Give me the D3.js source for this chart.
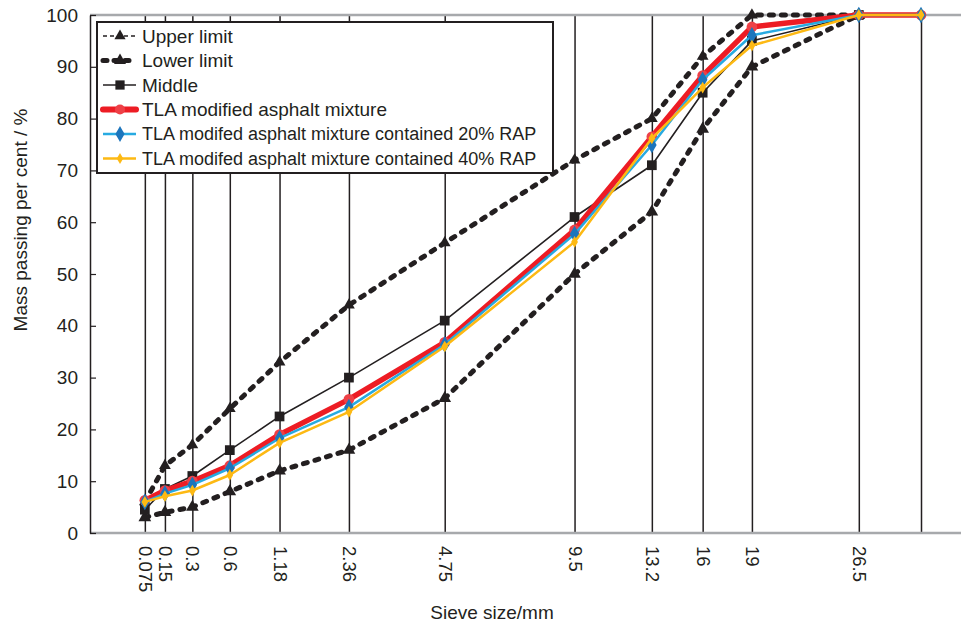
<!DOCTYPE html>
<html>
<head>
<meta charset="utf-8">
<script src="https://cdn.jsdelivr.net/npm/d3@7"></script>
<style>
  body { margin: 0; background: #fff; }
  svg { font-family: "Liberation Sans", Arial, sans-serif; }
</style>
</head>
<body>
<script>
// sieve sizes (mm) and tick labels
var sieves = [0.075, 0.15, 0.3, 0.6, 1.18, 2.36, 4.75, 9.5, 13.2, 16, 19, 26.5, 31.5];
var sieveLabels = ["0.075", "0.15", "0.3", "0.6", "1.18", "2.36", "4.75", "9.5", "13.2", "16", "19", "26.5", ""];
var yTicks = [0, 10, 20, 30, 40, 50, 60, 70, 80, 90, 100];

// passing percentages (null = no point)
var upperLimit = [6, 13, 17, 24, 33, 44, 56, 72, 80, 92, 100, 100, null];
var lowerLimit = [3, 4, 5, 8, 12, 16, 26, 50, 62, 78, 90, 100, null];
var middle     = [4.5, 8.5, 11, 16, 22.5, 30, 41, 61, 71, 85, 95, 100, null];
var tlaMix     = [6.3, 8.2, 10, 13, 19, 25.8, 36.8, 58.5, 76.5, 88.3, 97.7, 100, 100];
var rap20      = [6, 7.6, 9.3, 12.5, 18.3, 24.3, 36.4, 57.7, 74.9, 87.5, 96.1, 100, 100];
var rap40      = [6, 7.1, 8.2, 11.2, 17.4, 23.4, 36, 56.2, 76.2, 86, 94.1, 100, 100];

var W = 961, H = 625;
var plotL = 90, plotR = 961, plotT = 15, plotB = 533;

var svg = d3.select("body").append("svg")
    .attr("width", W)
    .attr("height", H);

var x = d3.scalePow().exponent(0.45)
    .domain([0, 31.5])
    .range([plotL, 921]);

var y = d3.scaleLinear()
    .domain([0, 100])
    .range([plotB, plotT]);

// vertical grid lines + x labels
var xAxis = svg.append("g")
    .attr("transform", "translate(0," + plotB + ")")
    .call(d3.axisBottom(x).tickValues(sieves)
        .tickSizeInner(-(plotB - plotT)).tickSizeOuter(0)
        .tickFormat(function(d, i) { return sieveLabels[i]; }));
xAxis.select(".domain").remove();
xAxis.selectAll(".tick line").attr("stroke", "#231f20").attr("stroke-width", 1.5);
xAxis.selectAll(".tick text")
    .attr("transform", "rotate(90)")
    .attr("x", 13).attr("y", 0).attr("dy", "0.35em")
    .style("text-anchor", "start")
    .style("font-size", "18.5px")
    .attr("fill", "#231f20");

// gray frame lines at 0 and 100
svg.append("line").attr("x1", plotL).attr("x2", plotR)
    .attr("y1", y(100)).attr("y2", y(100))
    .attr("stroke", "#a7a9ac").attr("stroke-width", 2.5);
svg.append("line").attr("x1", plotL).attr("x2", plotR)
    .attr("y1", y(0)).attr("y2", y(0))
    .attr("stroke", "#a7a9ac").attr("stroke-width", 2.5);

// y axis
var yAxis = svg.append("g")
    .attr("transform", "translate(" + plotL + ",0)")
    .call(d3.axisLeft(y).tickValues(yTicks).tickSizeInner(-6).tickSizeOuter(0).tickPadding(12));
yAxis.select(".domain").attr("stroke", "#231f20").attr("stroke-width", 1.5);
yAxis.selectAll(".tick line").attr("stroke", "#231f20").attr("stroke-width", 1.2);
yAxis.selectAll(".tick text").style("font-size", "19px").attr("fill", "#231f20");

// axis titles
svg.append("text")
    .attr("transform", "translate(27,220) rotate(-90)")
    .style("text-anchor", "middle")
    .style("font-size", "19px")
    .attr("fill", "#231f20")
    .text("Mass passing per cent / %");

svg.append("text")
    .attr("x", 492).attr("y", 619)
    .style("text-anchor", "middle")
    .style("font-size", "19px")
    .attr("fill", "#231f20")
    .text("Sieve size/mm");

// series definitions
var series = [
  {name: "Upper limit", values: upperLimit, color: "#231f20", width: 5, dash: "4,8", cap: "round",
   marker: "triangle", msize: 60, mfill: "#231f20", lw: 1.5, ldash: "4,3", lcap: "butt"},
  {name: "Lower limit", values: lowerLimit, color: "#231f20", width: 5, dash: "4,8", cap: "round",
   marker: "triangle", msize: 70, mfill: "#231f20", lw: 5, ldash: "4,7", lcap: "round"},
  {name: "Middle", values: middle, color: "#231f20", width: 1.6, dash: null, cap: "butt",
   marker: "square", msize: 95, mfill: "#231f20", lw: 1.6, ldash: null, lcap: "butt"},
  {name: "TLA modified asphalt mixture", values: tlaMix, color: "#ed1c24", width: 5.5, dash: null, cap: "butt",
   marker: "circle", msize: 90, mfill: "#ee4047", lw: 6, ldash: null, lcap: "round"},
  {name: "TLA modifed asphalt mixture contained 20% RAP", values: rap20, color: "#27aae1", width: 2.5, dash: null, cap: "butt",
   marker: "diamond", msize: 80, mfill: "#1c75bc", lw: 2.5, ldash: null, lcap: "butt"},
  {name: "TLA modifed asphalt mixture contained 40% RAP", values: rap40, color: "#fdb913", width: 2.5, dash: null, cap: "butt",
   marker: "diamond", msize: 40, mfill: "#fdb913", lw: 2.5, ldash: null, lcap: "butt"}
];

var symbols = {
  triangle: d3.symbolTriangle,
  square: d3.symbolSquare,
  circle: d3.symbolCircle,
  diamond: d3.symbolDiamond
};

var line = d3.line()
    .defined(function(d) { return d[1] != null; })
    .x(function(d) { return x(d[0]); })
    .y(function(d) { return y(d[1]); });

series.forEach(function(s) {
  var pts = sieves.map(function(v, i) { return [v, s.values[i]]; });
  var g = svg.append("g");
  g.append("path")
      .datum(pts)
      .attr("d", line)
      .attr("fill", "none")
      .attr("stroke", s.color)
      .attr("stroke-width", s.width)
      .attr("stroke-linecap", s.cap)
      .attr("stroke-linejoin", "round")
      .attr("stroke-dasharray", s.dash);
  g.selectAll("path.pt")
      .data(pts.filter(function(d) { return d[1] != null; }))
      .enter().append("path")
      .attr("class", "pt")
      .attr("transform", function(d) { return "translate(" + x(d[0]) + "," + y(d[1]) + ")"; })
      .attr("d", d3.symbol().type(symbols[s.marker]).size(s.msize))
      .attr("fill", s.mfill);
});

// legend
var legend = svg.append("g").attr("transform", "translate(97,22)");
legend.append("rect")
    .attr("width", 456).attr("height", 151)
    .attr("fill", "#fff")
    .attr("stroke", "#231f20")
    .attr("stroke-width", 2);

series.forEach(function(s, i) {
  var ly = 14 + i * 24.5;
  legend.append("line")
      .attr("x1", 6).attr("x2", 39)
      .attr("y1", ly).attr("y2", ly)
      .attr("stroke", s.color)
      .attr("stroke-width", s.lw)
      .attr("stroke-linecap", s.lcap)
      .attr("stroke-dasharray", s.ldash);
  legend.append("path")
      .attr("transform", "translate(23," + ly + ")")
      .attr("d", d3.symbol().type(symbols[s.marker]).size(s.msize * 0.9))
      .attr("fill", s.mfill);
  legend.append("text")
      .attr("x", 45).attr("y", ly)
      .attr("dy", "0.35em")
      .style("font-size", i < 4 ? "19px" : "18px")
      .attr("fill", "#231f20")
      .text(s.name);
});
</script>
</body>
</html>
